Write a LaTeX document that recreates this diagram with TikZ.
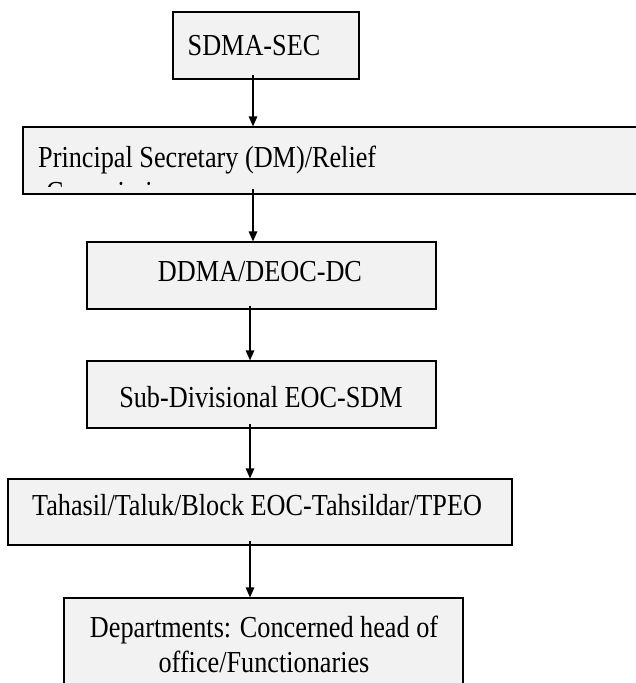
\documentclass[tikz,border=0pt]{standalone}
\usepackage{fontspec}
\setmainfont{Liberation Serif}[FakeStretch=0.86]
\usetikzlibrary{arrows.meta}
\definecolor{boxgray}{HTML}{F2F2F2}
\tikzset{
  box/.style={draw=black, line width=1.2pt, fill=boxgray, inner sep=0pt},
  txt/.style={inner sep=0pt, anchor=base, font=\fontsize{30.5}{35}\selectfont},
  arr/.style={-{Triangle[width=8.5pt,length=10pt]}, line width=1.4pt}
}
\begin{document}
\begin{tikzpicture}[x=1pt,y=-1pt]
\clip (0,0) rectangle (636,683);
\fill[white] (0,0) rectangle (636,683);
% boxes
\node[box, minimum width=186pt, minimum height=67pt] (sdma) at (266,45.5) {};
\node[txt] (sdmat) at (254,55) {SDMA-SEC};
\node[box, minimum width=640pt, minimum height=67pt] (prin) at (343,160.5) {};
\begin{scope}
  \clip (prin.north west) rectangle ([yshift=8pt]prin.south east);
  \node[txt, anchor=base west] (print1) at (38,167) {Principal Secretary (DM)/Relief};
  \node[txt, anchor=base west] (print2) at (46,202) {Commissioner};
\end{scope}
\node[box, minimum width=349pt, minimum height=67pt] (ddma) at (261.5,275.5) {};
\node[txt] (ddmat) at (260,281) {DDMA/DEOC-DC};
\node[box, minimum width=349pt, minimum height=67pt] (subdiv) at (261.5,394.5) {};
\node[txt] (subdivt) at (261,407) {Sub-Divisional EOC-SDM};
\node[box, minimum width=504pt, minimum height=66pt] (tah) at (260,512) {};
\node[txt] (taht) at (257,515) {Tahasil/Taluk/Block EOC-Tahsildar/TPEO};
\node[box, minimum width=399pt, minimum height=112pt] (dept) at (263.5,654) {};
\node[txt] (deptt1) at (264,637) {Departments: Concerned head of};
\node[txt] (deptt2) at (264,672) {office/Functionaries};
% arrows
\draw[arr] ([xshift=-13pt,yshift=5pt]sdma.south) -- ([xshift=-13pt]sdma.south |- prin.north);
\draw[arr] ([xshift=-8.5pt,yshift=6pt]ddma.north |- prin.south) -- ([xshift=-8.5pt]ddma.north);
\draw[arr] ([xshift=-11.5pt,yshift=4pt]ddma.south) -- ([xshift=-11.5pt]ddma.south |- subdiv.north);
\draw[arr] ([xshift=-11.5pt,yshift=5pt]subdiv.south) -- ([xshift=-11.5pt]subdiv.south |- tah.north);
\draw[arr] ([xshift=-10pt,yshift=5pt]tah.south) -- ([xshift=-10pt]tah.south |- dept.north);
\end{tikzpicture}
\end{document}
